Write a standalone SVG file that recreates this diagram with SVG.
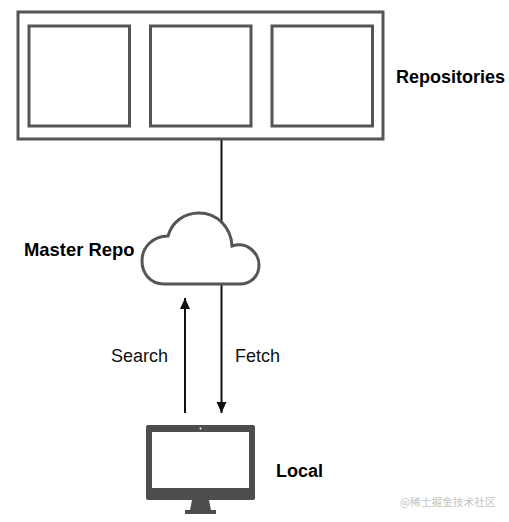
<svg xmlns="http://www.w3.org/2000/svg" width="509" height="522" viewBox="0 0 509 522">
<style>
.box{fill:#fff;stroke:#555;stroke-width:3}
.lab{font-family:"Liberation Sans",Arial,sans-serif;font-size:18px;fill:#111}
.b{font-weight:bold;fill:#000}
.wm{font-family:"Noto Sans CJK SC","Liberation Sans",sans-serif;font-size:10.700px;fill:#c4c4c4}
.ln{fill:none;stroke:#111;stroke-width:2}
</style>
<defs><marker id="a" markerWidth="13" markerHeight="13" refX="11" refY="6" orient="auto" markerUnits="userSpaceOnUse"><path d="M0 1L11 6L0 11Z" fill="#111"/></marker></defs>
<rect width="509" height="522" fill="#fff"/>
<g id="connectors">
<path class="ln" d="M221.500 140V222"/>
<path class="ln" d="M221.500 284V413" marker-end="url(#a)"/>
<path class="ln" d="M185 413V298" marker-end="url(#a)"/>
</g>
<g id="repositories">
<rect class="box" x="18" y="12" width="365" height="127"/>
<rect class="box" x="29" y="26" width="100.500" height="100"/>
<rect class="box" x="150.500" y="26" width="100.500" height="100"/>
<rect class="box" x="272" y="26" width="100.500" height="100"/>
<text class="lab b" x="396" y="83">Repositories</text>
</g>
<g id="master-repo">
<path d="M164 284C150 284 142 273 142 261C142 247 153 236 168 236C172 222 184 213 199 213C217 213 231 227 232 246C248 241 259 254 259 265C259 276 251 284 240 284Z" fill="#fff" stroke="#555" stroke-width="3"/>
<text class="lab b" x="24" y="256" style="font-size:18.400px">Master Repo</text>
</g>
<g id="search-label"><text class="lab" x="111" y="362">Search</text></g>
<g id="fetch-label"><text class="lab" x="235" y="362">Fetch</text></g>
<g id="local">
<path fill-rule="evenodd" fill="#4d4d4d" d="M148 425H253Q255 425 255 427V498Q255 500 253 500H148Q146 500 146 498V427Q146 425 148 425ZM152 432V488H249V432Z"/>
<circle cx="200.500" cy="428.500" r="1" fill="#fff"/>
<path fill="#4d4d4d" d="M192 500H209L211 510H216V514H185V510H190Z"/>
<text class="lab b" x="276" y="477">Local</text>
</g>
<text class="wm" x="400" y="506">@稀土掘金技术社区</text>
</svg>
